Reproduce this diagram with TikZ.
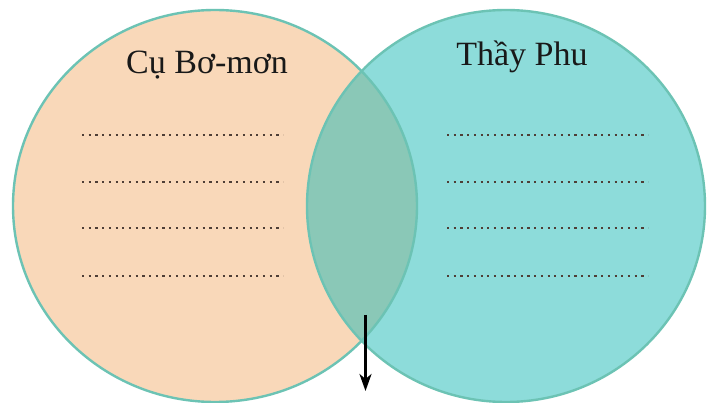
\documentclass[tikz,border=0pt]{standalone}
\usepackage{fontspec}
\setmainfont{Liberation Serif}
\usetikzlibrary{arrows.meta}
\definecolor{peach}{HTML}{F9D8B9}
\definecolor{teal1}{HTML}{8DDCDA}
\definecolor{overlap}{HTML}{8AC8B7}
\definecolor{rim}{HTML}{6CC3B4}
\definecolor{dotc}{HTML}{4E3E36}
\tikzset{
  rimline/.style={draw=rim, line width=2.4pt},
  title/.style={anchor=base, inner sep=0pt, text=black!90, font=\fontsize{34}{40}\selectfont},
  dotline/.style={dotc, line width=2.2pt, dash pattern=on 2.2pt off 4.5pt},
  pointer/.style={line width=2.6pt, -{Stealth[length=17pt,width=12pt,inset=5pt]}}
}
\begin{document}
\begin{tikzpicture}[x=1pt,y=-1pt]
\useasboundingbox (0,0) rectangle (707,403);
\fill[white] (0,0) rectangle (707,403);
% circles
\fill[peach] (215,206) ellipse [x radius=202, y radius=196];
\fill[teal1] (506,206) ellipse [x radius=199, y radius=196];
\begin{scope}
  \clip (215,206) ellipse [x radius=202, y radius=196];
  \fill[overlap] (506,206) ellipse [x radius=199, y radius=196];
\end{scope}
\draw[rimline] (215,206) ellipse [x radius=202, y radius=196];
\draw[rimline] (506,206) ellipse [x radius=199, y radius=196];
% titles
\node[title] (left) at (207,74) {Cụ Bơ-mơn};
\node[title] (right) at (522,66) {Thầy Phu};
% dotted lines
\foreach \y [count=\i] in {135,182,228,276} {
  \coordinate (l\i a) at (82,\y);
  \coordinate (l\i b) at (283,\y);
  \coordinate (r\i a) at (447,\y);
  \coordinate (r\i b) at (648,\y);
  \draw[dotline] (l\i a) -- (l\i b);
  \draw[dotline] (r\i a) -- (r\i b);
}
% arrow
\coordinate (ptop) at (365.5,315);
\coordinate (pbot) at (365.5,391);
\draw[pointer] (ptop) -- (pbot);
\end{tikzpicture}
\end{document}
